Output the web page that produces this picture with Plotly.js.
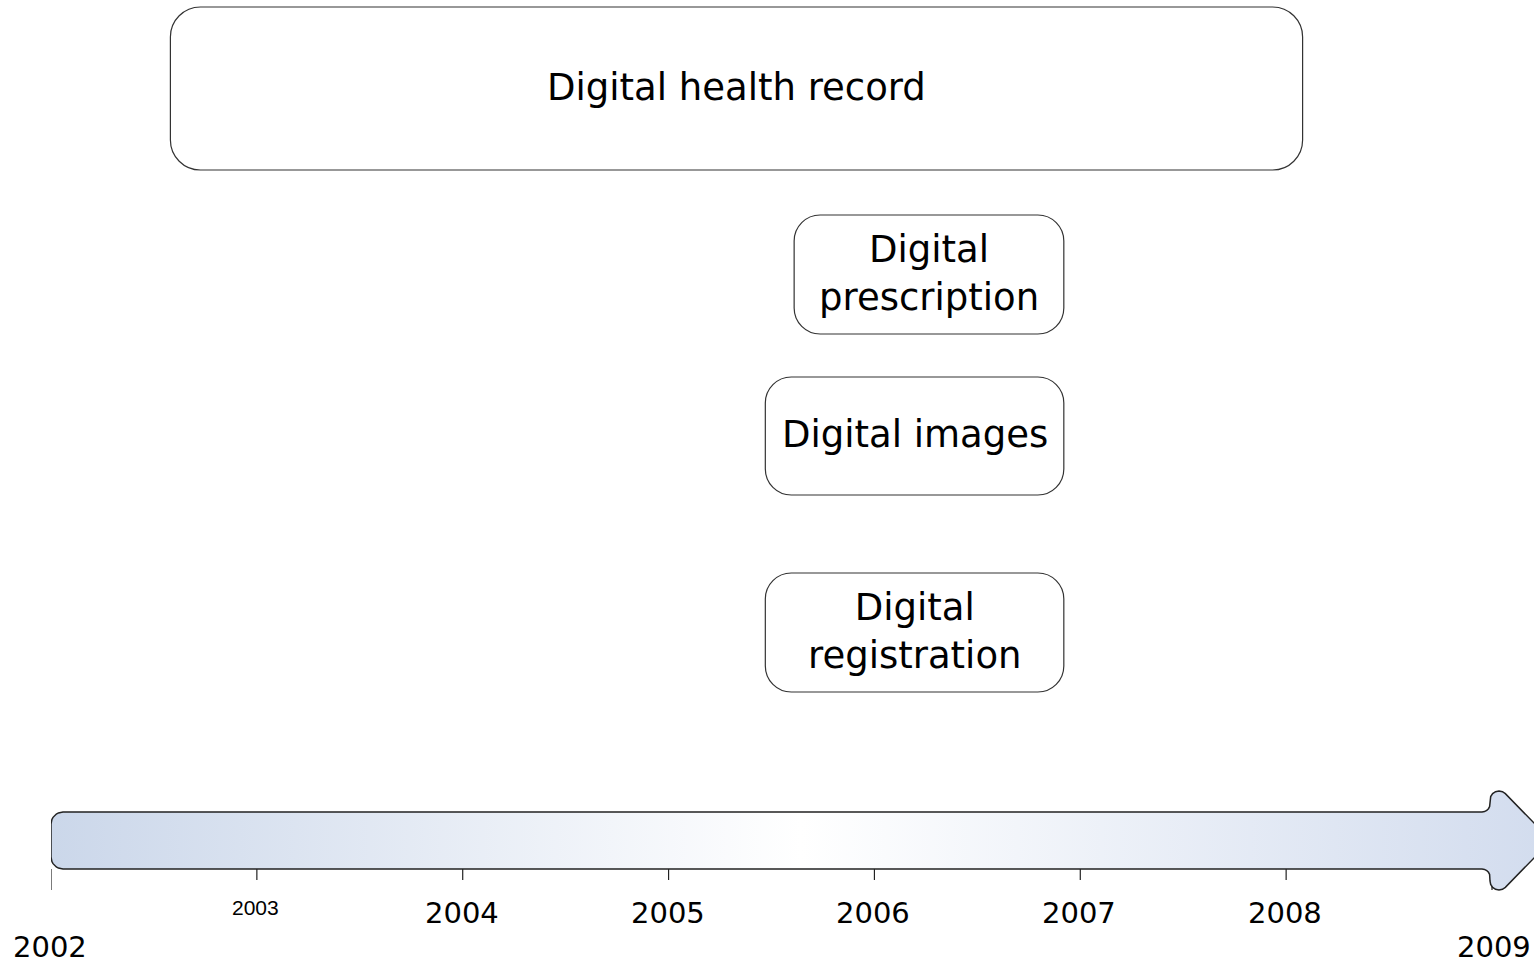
<!DOCTYPE html>
<html>
<head>
<meta charset="utf-8">
<script src="https://cdn.plot.ly/plotly-3.0.1.min.js"></script>
<style>html,body{margin:0;padding:0;background:#fff;}#chart{width:1534px;height:963px;}</style>
</head>
<body>
<div id="chart"></div>
<script>
// ---- data ----
const items = ['Digital health record', 'Digital<br>prescription', 'Digital images', 'Digital<br>registration'];
const startYear = [2002.58, 2005.61, 2005.47, 2005.47];
const endYear = [2008.08, 2006.92, 2006.92, 2006.92];
const years = [2002, 2003, 2004, 2005, 2006, 2007, 2008, 2009];
const yearLabels = ['2002', '2003', '2004', '2005', '2006', '2007', '2008', '2009'];

// ---- layout helpers (positions / styles only) ----
const W = 1534, H = 963, L = 51;
const pxPerYear = 1441 / 7;
const xMin = years[0];
const xMax = years[0] + (W - L) / pxPerYear;
const dx = p => p / pxPerYear;               // pixel width -> years
const rowTop = [7, 215, 377, 573];
const rowBot = [170, 334, 495, 692];
const rowRadius = [30, 26, 26, 26];

function roundRect(x0, x1, y0, y1, r) {
  const k = 0.5523;
  const rx = dx(r), ry = r;
  return `M${x0 + rx},${y0} L${x1 - rx},${y0} ` +
    `C${x1 - rx + rx * k},${y0} ${x1},${y0 + ry - ry * k} ${x1},${y0 + ry} ` +
    `L${x1},${y1 - ry} ` +
    `C${x1},${y1 - ry + ry * k} ${x1 - rx + rx * k},${y1} ${x1 - rx},${y1} ` +
    `L${x0 + rx},${y1} ` +
    `C${x0 + rx - rx * k},${y1} ${x0},${y1 - ry + ry * k} ${x0},${y1 - ry} ` +
    `L${x0},${y0 + ry} ` +
    `C${x0},${y0 + ry - ry * k} ${x0 + rx - rx * k},${y0} ${x0 + rx},${y0} Z`;
}

const shapes = [];
const annotations = [];
items.forEach((t, i) => {
  shapes.push({
    type: 'path', xref: 'x', yref: 'y',
    path: roundRect(startYear[i], endYear[i], rowTop[i], rowBot[i], rowRadius[i]),
    line: { color: '#333333', width: 1.2 }, fillcolor: '#ffffff', layer: 'above'
  });
  annotations.push({
    xref: 'x', yref: 'y', x: (startYear[i] + endYear[i]) / 2, y: (rowTop[i] + rowBot[i]) / 2 - 1.5,
    text: t, showarrow: false, xanchor: 'center', yanchor: 'middle',
    font: { family: 'DejaVu Sans', size: 37, color: '#000' }
  });
});

// arrow outline (year axis band)
const bandTop = 812, bandBot = 869, bandMid = (bandTop + bandBot) / 2;
function arc(cx, cy, r, a0, a1, n) {
  const pts = [];
  for (let j = 0; j <= n; j++) {
    const a = a0 + (a1 - a0) * j / n;
    pts.push([cx + dx(r * Math.cos(a)), cy + r * Math.sin(a)]);
  }
  return pts;
}
const first = years[0], last = years[years.length - 1];
const rr = 12;
let pts = [];
pts = pts.concat(arc(first + dx(rr), bandTop + rr, rr, Math.PI, 1.5 * Math.PI, 8));
const bodyEnd = last - dx(10);
pts.push([bodyEnd, bandTop]);
pts = pts.concat(arc(bodyEnd, bandTop - 8, 8, 0.5 * Math.PI, 0, 5));
pts.push([last - dx(2), 800]);
pts = pts.concat(arc(last + dx(7), 800, 9, Math.PI, 1.75 * Math.PI, 6));
const tipX = last + dx(59);
pts.push([tipX, bandMid]);
pts = pts.concat(arc(last + dx(7), 881, 9, 0.25 * Math.PI, Math.PI, 6));
pts.push([last - dx(2), 877]);
pts = pts.concat(arc(bodyEnd, bandBot + 8, 8, 0, -0.5 * Math.PI, 5));
pts.push([first + dx(rr), bandBot]);
pts = pts.concat(arc(first + dx(rr), bandBot - rr, rr, 0.5 * Math.PI, Math.PI, 8));
pts.push(pts[0]);

const arrowTrace = {
  type: 'scatter', mode: 'lines',
  x: pts.map(p => p[0]), y: pts.map(p => p[1]),
  fill: 'toself',
  fillgradient: {
    type: 'horizontal',
    colorscale: [[0, '#cbd7ea'], [0.5, '#ffffff'], [1, '#d2dcee']]
  },
  line: { color: '#222222', width: 1.5 },
  hoverinfo: 'skip', showlegend: false
};

// ticks and year labels
years.forEach((yr, i) => {
  const edge = (i === 0 || i === years.length - 1);
  shapes.push({
    type: 'line', xref: 'x', yref: 'y', x0: yr, x1: yr,
    y0: bandBot, y1: edge ? 890 : 880,
    line: { color: '#222', width: 1.2 }, layer: 'below'
  });
  const small = (yr === 2003);
  annotations.push({
    xref: 'x', yref: 'y', x: yr,
    xshift: (i === years.length - 1) ? 2 : -1,
    y: edge ? 947 : (small ? 907.5 : 912.5),
    text: yearLabels[i], showarrow: false, xanchor: 'center', yanchor: 'middle',
    font: { family: small ? 'Liberation Sans' : 'DejaVu Sans', size: small ? 21 : 29, color: '#000' }
  });
});

const layout = {
  width: W, height: H,
  margin: { l: L, r: 0, t: 0, b: 0, pad: 0 },
  paper_bgcolor: '#ffffff', plot_bgcolor: '#ffffff',
  xaxis: { range: [xMin, xMax], visible: false, fixedrange: true },
  yaxis: { range: [H, 0], visible: false, fixedrange: true },
  shapes: shapes, annotations: annotations, showlegend: false
};

Plotly.newPlot('chart', [arrowTrace], layout, { staticPlot: true, displayModeBar: false });
</script>
</body>
</html>
